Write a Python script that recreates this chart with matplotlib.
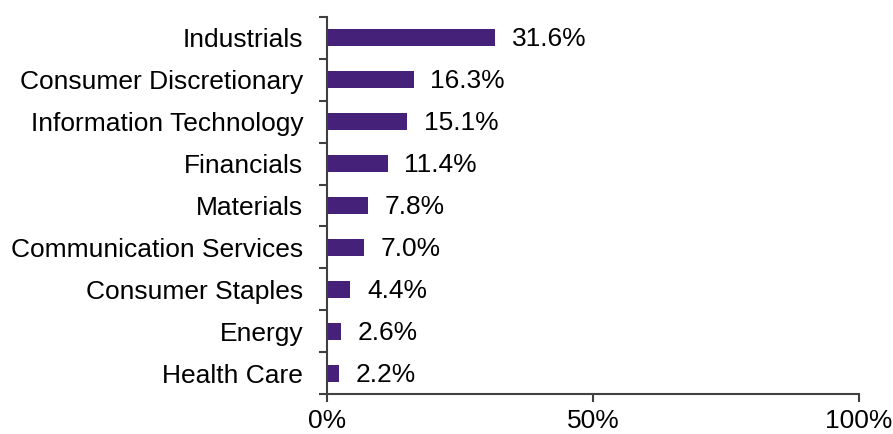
import numpy as np
import matplotlib.pyplot as plt

plt.rcParams['font.family'] = ['Liberation Sans', 'DejaVu Sans']

sectors = ["Industrials", "Consumer Discretionary", "Information Technology",
           "Financials", "Materials", "Communication Services",
           "Consumer Staples", "Energy", "Health Care"]
weights = [31.6, 16.3, 15.1, 11.4, 7.8, 7.0, 4.4, 2.6, 2.2]
xticks = [0, 50, 100]

bar_color = '#45217A'
axis_color = '#404040'
fs = 19

fig = plt.figure(figsize=(8.93, 4.34), dpi=100)
ax = fig.add_axes([0.366, 0.092, 0.596, 0.869])

y = np.arange(len(sectors))
ax.barh(y, weights, height=0.4, color=bar_color)

for yi, w in zip(y, weights):
    ax.annotate(f"{w:.1f}%", (w, yi), xytext=(12, -1), textcoords='offset points',
                va='center', ha='left', fontsize=fs)

ax.set_xlim(0, 100)
ax.set_ylim(len(sectors) - 0.5, -0.5)
ax.set_xticks(xticks)
ax.set_xticklabels([f"{t}%" for t in xticks], fontsize=fs)
ax.set_yticks(y)
ax.set_yticklabels(sectors, fontsize=fs)
ax.tick_params(axis='y', which='major', length=0, pad=17)
ax.set_yticks(np.arange(-0.5, len(sectors), 1), minor=True)
ax.tick_params(axis='y', which='minor', length=6, width=1.5, color=axis_color)
ax.tick_params(axis='x', length=6, width=1.5, color=axis_color, pad=5)

for s in ['top', 'right']:
    ax.spines[s].set_visible(False)
for s in ['left', 'bottom']:
    ax.spines[s].set_color(axis_color)
    ax.spines[s].set_linewidth(1.5)

fig.savefig("out.png", dpi=100)
